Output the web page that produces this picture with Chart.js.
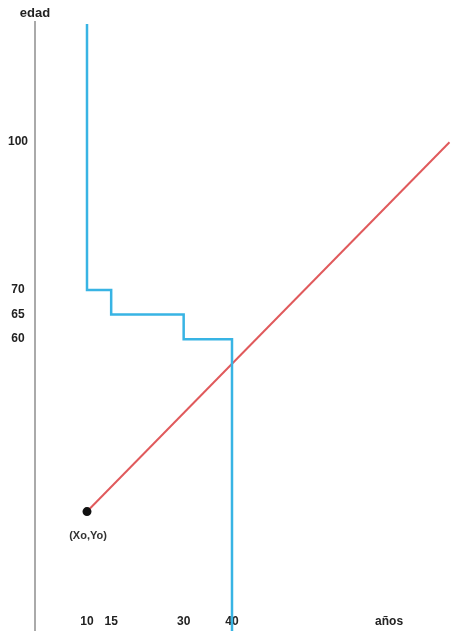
<!DOCTYPE html>
<html>
<head>
<meta charset="utf-8">
<script src="https://cdn.jsdelivr.net/npm/chart.js@4"></script>
<style>
  html, body { margin: 0; padding: 0; background: #fff; }
  #wrap { width: 472px; height: 631px; position: relative; }
</style>
</head>
<body>
<div id="wrap"><canvas id="chart"></canvas></div>
<script>
const X_TICKS = [10, 15, 30, 40];
const Y_TICKS = [60, 65, 70, 100];
const X_TITLE = 'años';
const X_TITLE_AT = 72.5;
const Y_TITLE = 'edad';
const ORIGIN_LABEL = '(Xo,Yo)';

// escalera: edad limite segun años
const stepX = [10, 10, 15, 15, 30, 30, 40, 40];
const stepY = [124, 70, 70, 65, 65, 60, 60, 0];
// recta desde (Xo,Yo)
const lineX = [10, 85];
const lineY = [25, 100];

const X_MIN = -0.76, X_MAX = 89.66;
const Y_MIN = 0.75, Y_MAX = 124.4;

const FONT = { family: 'Liberation Sans', size: 12, weight: 'bold' };
const INK = '#222';

const toPts = (xs, ys) => xs.map((x, i) => ({ x: x, y: ys[i] }));
const noPad = s => { s.paddingLeft = 0; s.paddingRight = 0; s.paddingTop = 0; s.paddingBottom = 0; };

const originLabel = {
    id: 'originLabel',
    afterDatasetsDraw(chart) {
        const pt = chart.getDatasetMeta(1).data[0];
        if (!pt) return;
        const ctx = chart.ctx;
        ctx.save();
        ctx.font = 'bold 11px "Liberation Sans"';
        ctx.fillStyle = '#333';
        ctx.textAlign = 'center';
        ctx.textBaseline = 'middle';
        ctx.fillText(ORIGIN_LABEL, pt.x + 1, pt.y + 24);
        ctx.restore();
    }
};

new Chart(document.getElementById('chart').getContext('2d'), {
    type: 'scatter',
    data: { datasets: [
        { data: toPts(stepX, stepY), showLine: true, borderColor: '#38b4e4', borderWidth: 2.5, pointRadius: 0, tension: 0 },
        { data: toPts(lineX, lineY), showLine: true, borderColor: '#e05a5c', borderWidth: 2, pointRadius: [3.5, 0],
          pointBackgroundColor: '#111', pointBorderColor: '#111', tension: 0 }
    ]},
    options: {
        responsive: true, maintainAspectRatio: false, animation: false,
        layout: { padding: 0, autoPadding: false },
        plugins: { legend: { display: false }, tooltip: { enabled: false } },
        scales: {
            x: {
                type: 'linear', position: 'bottom', min: X_MIN, max: X_MAX,
                grid: { display: false, drawTicks: false }, border: { display: false },
                afterBuildTicks: s => { s.ticks = X_TICKS.concat([X_TITLE_AT]).map(v => ({ value: v })); },
                afterFit: s => { s.height = 0; noPad(s); },
                ticks: { mirror: true, padding: 2, color: INK, font: FONT, maxRotation: 0, autoSkip: false,
                         callback: v => v === X_TITLE_AT ? X_TITLE : String(v) }
            },
            xTop: {
                type: 'linear', position: 'top', min: X_MIN, max: X_MAX,
                grid: { display: false, drawTicks: false }, border: { display: false },
                afterBuildTicks: s => { s.ticks = [{ value: X_MIN }]; },
                afterFit: s => { s.height = 22; noPad(s); },
                ticks: { padding: 1, color: INK, font: { family: 'Liberation Sans', size: 13, weight: 'bold' },
                         maxRotation: 0, autoSkip: false, callback: () => Y_TITLE }
            },
            y: {
                type: 'linear', position: 'left', min: Y_MIN, max: Y_MAX,
                grid: { display: false, drawTicks: false },
                border: { display: true, color: '#aaaaaa', width: 2 },
                afterBuildTicks: s => { s.ticks = Y_TICKS.map(v => ({ value: v })); },
                afterFit: s => { s.width = 35; noPad(s); },
                ticks: { padding: 7, crossAlign: 'center', color: INK, font: FONT, autoSkip: false,
                         callback: v => String(v) }
            }
        }
    },
    plugins: [originLabel]
});
</script>
</body>
</html>
